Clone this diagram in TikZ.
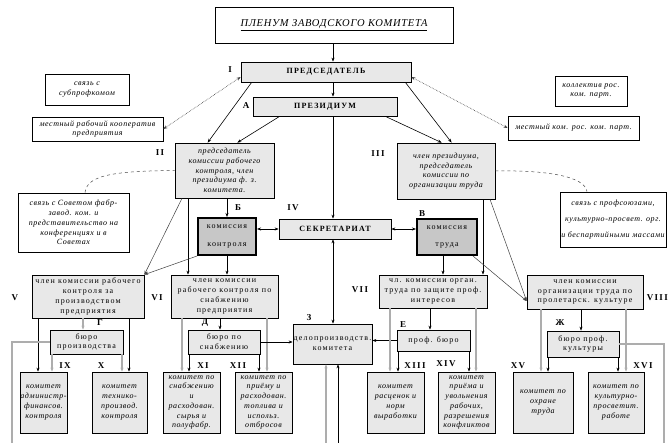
\documentclass[tikz,border=0pt]{standalone}
\usepackage{fontspec}
\setmainfont{Liberation Serif}[LetterSpace=15, ItalicFeatures={LetterSpace=7}, BoldItalicFeatures={LetterSpace=7}]
\usetikzlibrary{arrows.meta}
\definecolor{boxfill}{gray}{0.91}
\definecolor{darkfill}{gray}{0.78}
\definecolor{lineg}{gray}{0.68}
\newcommand\fs{\fontsize{8}{9.7}\selectfont}
\begin{document}
\begin{tikzpicture}[x=1pt,y=-1pt,
 bx/.style={draw, line width=0.7pt, inner sep=0pt, align=center, font=\fs},
 gb/.style={bx, fill=boxfill},
 wb/.style={bx, fill=white},
 kb/.style={bx, fill=darkfill, line width=2pt},
 sz/.style 2 args={minimum width=#1pt, minimum height=#2pt},
 it/.style={font=\fs\itshape},
 bf/.style={font=\fs\bfseries},
 lab/.style={font=\fontsize{9}{10}\selectfont\bfseries, inner sep=0pt},
 arr/.style={-{Stealth[length=4pt,width=3pt]}, line width=0.6pt},
 darr/.style={{Stealth[length=4pt,width=3pt]}-{Stealth[length=4pt,width=3pt]}, line width=0.6pt},
 thinarr/.style={-{Stealth[length=4pt,width=3pt]}, line width=0.5pt, draw=black!75},
 garr/.style={-{Stealth[length=4pt,width=3pt]}, draw=lineg, line width=1.1pt},
 gline/.style={draw=lineg, line width=1.1pt},
 dotarr/.style={{Stealth[length=4pt,width=3pt]}-{Stealth[length=4pt,width=3pt]}, densely dotted, line width=0.6pt, draw=black!75},
 dcurve/.style={dashed, line width=0.5pt, draw=black!70}
]
\useasboundingbox (0,0) rectangle (669,443);
\fill[white] (0,0) rectangle (669,443);

% top
\node[wb, sz={238}{36}, font=\fontsize{10.5}{12}\selectfont\itshape\addfontfeature{LetterSpace=18}] (plen) at (334,25) {\underline{ПЛЕНУМ ЗАВОДСКОГО КОМИТЕТА}};
\node[gb, bf, sz={170}{20}] (pred) at (326,72) {ПРЕДСЕДАТЕЛЬ};
\node[gb, bf, sz={144}{19}] (prez) at (325,106.5) {ПРЕЗИДИУМ};
\node[wb, it, sz={84}{31}] (subp) at (87,89.5) {связь с\\субпрофкомом};
\node[wb, it, sz={131}{24}] (koop) at (97.5,129) {местный рабочий кооператив\\предприятия};
\node[wb, it, sz={72}{30}] (koll) at (591,91) {коллектив рос.\\ком. парт.};
\node[wb, it, sz={131}{24}] (mest) at (573.5,128) {местный ком. рос. ком. парт.};

% level 2
\node[gb, it, sz={99}{55}] (II) at (224.5,170.5) {председатель\\комиссии рабочего\\контроля, член\\президиума ф. з.\\комитета.};
\node[gb, it, sz={98}{56}] (III) at (446,171) {член президиума,\\председатель\\комиссии по\\организации труда};
\node[wb, it, sz={111}{59}] (sov) at (73.5,222.5) {связь с Советом фабр-\\завод. ком. и\\представительство на\\конференциях и в\\Советах};
\node[wb, it, sz={106}{55}] (prof) at (613,219.5) {связь с профсоюзами,\\[6pt]культурно-просвет. орг.\\[6pt]и беспартийными массами};
\node[kb, sz={58}{37}] (kk) at (227,236.5) {комиссия\\[8pt]контроля};
\node[gb, bf, sz={112}{20}] (sek) at (335,229) {СЕКРЕТАРИАТ};
\node[kb, sz={60}{36}] (kt) at (447,237) {комиссия\\[8pt]труда};

% level 3
\node[gb, sz={112}{43}] (b5) at (88,296.5) {член комиссии рабочего\\контроля за\\производством\\предприятия};
\node[gb, sz={107}{43}] (b6) at (224.5,296.5) {член комиссии\\рабочего контроля по\\снабжению\\предприятия};
\node[gb, sz={108}{33}] (b7) at (433,291.5) {чл. комиссии орган.\\труда по защите проф.\\интересов};
\node[gb, sz={116}{34}] (b8) at (585,292) {член комиссии\\организации труда по\\пролетарск. культуре};

% bureaus
\node[gb, sz={73}{24}] (bG) at (86.5,342) {бюро\\производства};
\node[gb, sz={72}{24}] (bD) at (224,342) {бюро по\\снабжению};
\node[gb, sz={79}{40}] (delo) at (332.5,344) {делопроизводств.\\комитета};
\node[gb, sz={73}{21}] (bE) at (433.5,340.5) {проф. бюро};
\node[gb, sz={72}{26}] (bZh) at (583,344) {бюро проф.\\культуры};

% committees
\node[gb, it, sz={47}{61}] (c9) at (43.5,402.5) {комитет\\администр-\\финансов.\\контроля};
\node[gb, it, sz={55}{61}] (c10) at (119.5,402.5) {комитет\\технико-\\производ.\\контроля};
\node[gb, it, sz={57}{61}] (c11) at (191.5,402.5) {комитет по\\снабжению\\и\\расходован.\\сырья и\\полуфабр.};
\node[gb, it, sz={57}{61}] (c12) at (263.5,402.5) {комитет по\\приёму и\\расходован.\\топлива и\\использ.\\отбросов};
\node[gb, it, sz={57}{61}] (c13) at (395.5,402.5) {комитет\\расценок и\\норм\\выработки};
\node[gb, it, sz={57}{61}] (c14) at (466.5,402.5) {комитет\\приёма и\\увольнения\\рабочих,\\разрешения\\конфликтов};
\node[gb, it, sz={60}{61}] (c15) at (543,402.5) {комитет по\\охране\\труда};
\node[gb, it, sz={56}{61}] (c16) at (616,402.5) {комитет по\\культурно-\\просветит.\\работе};

% labels
\node[lab] (lI) at (230,70) {I};
\node[lab] (lA) at (246,106) {А};
\node[lab] (lII) at (160,153) {II};
\node[lab] (lIII) at (378,154) {III};
\node[lab] (lB) at (238,208) {Б};
\node[lab] (lIV) at (293,208) {IV};
\node[lab] (lV2) at (422,214) {В};
\node[lab] (lV) at (15,298) {V};
\node[lab] (lVI) at (157,298) {VI};
\node[lab] (lVII) at (360,290) {VII};
\node[lab, anchor=east] (lVIII) at (668,298) {VIII};
\node[lab] (lG) at (100,323) {Г};
\node[lab] (lD) at (205,323) {Д};
\node[lab] (lZ) at (309,318) {З};
\node[lab] (lE) at (403,325) {Е};
\node[lab] (lZh) at (560,323) {Ж};
\node[lab] (lIX) at (65,366) {IX};
\node[lab] (lX) at (101,366) {X};
\node[lab] (lXI) at (203,366) {XI};
\node[lab] (lXII) at (238,366) {XII};
\node[lab] (lXIII) at (415,366) {XIII};
\node[lab] (lXIV) at (446,364) {XIV};
\node[lab] (lXV) at (518,366) {XV};
\node[lab] (lXVI) at (643,366) {XVI};

% free ends
\coordinate (ax) at (333,0);
\coordinate (bl) at (12,443);
\coordinate (br) at (664,443);
\coordinate (b1) at (326,443);
\coordinate (b2) at (338,443);
\coordinate (p8) at ([yshift=-9pt]b8.west);

% connectors top
\draw[arr] (plen.south -| ax) -- (pred.north -| ax);
\draw[arr] (pred.south -| ax) -- (prez.north -| ax);
\draw[arr] (prez.south -| ax) -- (sek.north -| ax);
\draw[darr] (sek.south -| ax) -- (delo.north -| ax);
\draw[dotarr] ([yshift=-5pt]pred.west) -- (koop.east);
\draw[dotarr] ([yshift=-5pt]pred.east) -- (mest.west);
\draw[arr] ([xshift=11pt]pred.south west) -- ([xshift=33pt]II.north west);
\draw[arr] ([xshift=27pt]prez.south west) -- ([xshift=-37pt]II.north east);
\draw[arr] ([xshift=-12pt]prez.south east) -- ([xshift=45pt]III.north west);
\draw[arr] ([xshift=-6pt]pred.south east) -- ([xshift=55pt]III.north west);
\draw[dcurve] (sov.north -| 85,0) .. controls (87,176) and (110,171) .. (II.west);
\draw[dcurve] (III.east) .. controls (545,170) and (585,176) .. (prof.north -| 587,0);

% level 2 connectors
\draw[arr] (II.south -| kk.north) -- (kk.north);
\draw[arr] (kk.south) -- (kk.south |- b6.north);
\draw[arr] (II.south -| 188,0) -- (b6.north -| 188,0);
\draw[thinarr] (II.south -| 182,0) -- (b5.north east);
\draw[thinarr] (kk.south west) -- (b5.north east);
\draw[darr] (kk.east |- sek.west) -- (sek.west);
\draw[darr] (sek.east) -- (sek.east -| kt.west);
\draw[arr] (kt.south -| 443,0) -- (b7.north -| 443,0);
\draw[arr] (III.south -| 483,0) -- (b7.north -| 483,0);
\draw[thinarr] (III.south -| 490,0) -- (p8);
\draw[thinarr] ([xshift=-5pt]kt.south east) -- (p8);

% left block
\draw[garr] (b5.south -| 83,0) -- (bG.north -| 83,0);
\draw[arr] (b5.south -| 38,0) -- (c9.north -| 38,0);
\draw[garr] (bG.south -| 52,0) -- (c9.north -| 52,0);
\draw[arr] (b5.south -| 129,0) -- (c10.north -| 129,0);
\draw[garr] (bG.south -| 122,0) -- (c10.north -| 122,0);
\draw[gline] (bG.west) -- (bG.west -| bl) -- (bl);

\draw[arr] (b6.south -| 220,0) -- (bD.north -| 220,0);
\draw[garr] (b6.south -| 182,0) -- (c11.north -| 182,0);
\draw[arr] (bD.south -| 189,0) -- (c11.north -| 189,0);
\draw[garr] (b6.south -| 267,0) -- (c12.north -| 267,0);
\draw[arr] (bD.south -| 259,0) -- (c12.north -| 259,0);
\draw[arr] (bD.east) -- (bD.east -| delo.west);

% middle
\draw[garr] (b1) -- (b1 |- delo.south);
\draw[arr] (b2) -- (b2 |- delo.south);
\draw[arr] (bE.west) -- (bE.west -| delo.east);

% right block
\draw[arr] (b7.south -| 430,0) -- (bE.north -| 430,0);
\draw[garr] (b7.south -| 390,0) -- (c13.north -| 390,0);
\draw[arr] (bE.south -| 398,0) -- (c13.north -| 398,0);
\draw[garr] (b7.south -| 476,0) -- (c14.north -| 476,0);
\draw[arr] (bE.south -| 469,0) -- (c14.north -| 469,0);

\draw[arr] (b8.south -| 581,0) -- (bZh.north -| 581,0);
\draw[garr] (b8.south -| 541,0) -- (c15.north -| 541,0);
\draw[arr] (bZh.south -| 548,0) -- (c15.north -| 548,0);
\draw[arr] (bZh.south -| 618,0) -- (c16.north -| 618,0);
\draw[garr] (b8.south -| 626,0) -- (c16.north -| 626,0);
\draw[gline] (bZh.east) -- (bZh.east -| br) -- (br);
\end{tikzpicture}
\end{document}
